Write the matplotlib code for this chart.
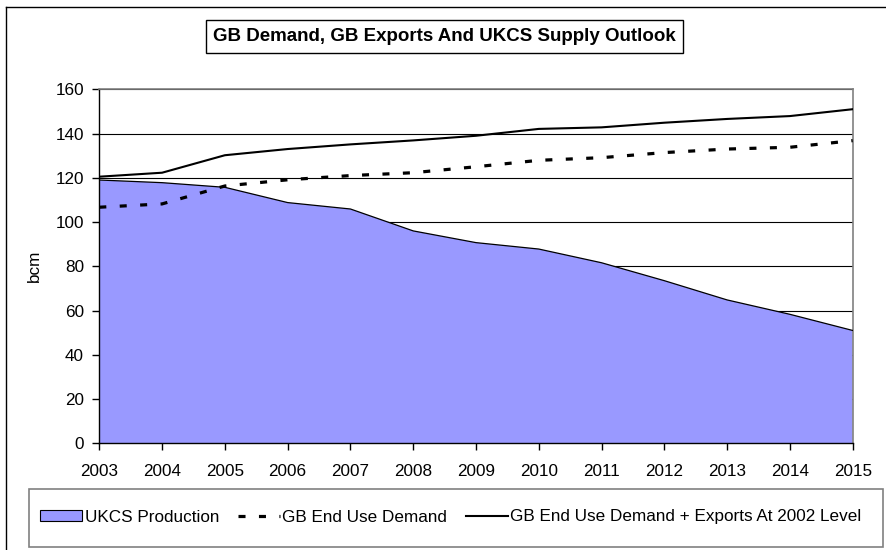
import matplotlib
matplotlib.use('Agg')
import matplotlib.pyplot as plt
from matplotlib.patches import Rectangle, Patch
from matplotlib.lines import Line2D

plt.rcParams['font.family'] = ['Liberation Sans', 'DejaVu Sans']

# values (bcm)
years = [2003, 2004, 2005, 2006, 2007, 2008, 2009, 2010, 2011, 2012, 2013, 2014, 2015]
ukcs_production = [119, 117.8, 115.7, 108.8, 105.9, 96, 90.7, 87.8, 81.6, 73.5, 64.8, 58.3, 51]
gb_demand = [106.7, 108.2, 116.3, 119.1, 121, 122.3, 125, 127.9, 129.1, 131.4, 133, 133.8, 136.8]
gb_demand_exports = [120.5, 122.3, 130.2, 133, 135.1, 136.9, 139, 142.1, 142.8, 144.9, 146.6, 147.9, 151]
y_ticks = [0, 20, 40, 60, 80, 100, 120, 140, 160]

W, H = 886, 550
fig = plt.figure(figsize=(W / 100, H / 100), dpi=100)

# outer chart border (left and top visible)
fig.add_artist(Line2D([6 / W, 6 / W], [0, 1 - 7 / H], color='black', lw=1))
fig.add_artist(Line2D([6 / W, 1], [1 - 7 / H, 1 - 7 / H], color='black', lw=1))

ax = fig.add_axes([99.3 / W, 1 - 443.3 / H, 753.4 / W, 354 / H])

ax.fill_between(years, ukcs_production, 0, facecolor='#9999FF', edgecolor='none', zorder=2)
ax.plot(years, ukcs_production, color='black', lw=0.9, zorder=3)
ax.plot(years, gb_demand, color='black', lw=2.3, linestyle=(0, (2.2, 4.2)),
        dash_capstyle='butt', zorder=4)
ax.plot(years, gb_demand_exports, color='black', lw=1.5, zorder=4)

ax.set_xlim(2003, 2015)
ax.set_ylim(0, 160)
ax.set_xticks(years)
ax.set_yticks(y_ticks)
ax.yaxis.grid(True, color='black', lw=0.8)
ax.set_axisbelow(True)

for s in ['top', 'right']:
    ax.spines[s].set_color('#808080')
    ax.spines[s].set_linewidth(1.2)
for s in ['left', 'bottom']:
    ax.spines[s].set_color('black')
    ax.spines[s].set_linewidth(1)
ax.spines['bottom'].set_zorder(5)

ax.tick_params(axis='x', direction='out', length=5, width=1, pad=10, labelsize=12.3)
ax.tick_params(axis='y', direction='out', length=5, width=1, pad=6, labelsize=12.3)
ax.set_ylabel('bcm', fontsize=12.3)
ax.yaxis.set_label_coords(-(99.3 - 41.7) / 753.4, 0.5)

# title box
fig.add_artist(Rectangle((205.7 / W, 1 - 52.7 / H), 477 / W, 32.7 / H,
                         transform=fig.transFigure, facecolor='white',
                         edgecolor='black', lw=1))
fig.text(444 / W, 1 - 36.5 / H, 'GB Demand, GB Exports And UKCS Supply Outlook',
         ha='center', va='center', fontsize=13.5, fontweight='bold')

# legend box
fig.add_artist(Rectangle((29 / W, 1 - 547 / H), 854 / W, 58 / H,
                         transform=fig.transFigure, facecolor='white',
                         edgecolor='#808080', lw=1.2))
handles = [
    Patch(facecolor='#9999FF', edgecolor='black', lw=0.8),
    Line2D([], [], color='black', lw=2.3, linestyle=(0, (2.2, 4.2)), dash_capstyle='butt'),
    Line2D([], [], color='black', lw=1.5),
]
labels = ['UKCS Production', 'GB End Use Demand', 'GB End Use Demand + Exports At 2002 Level']
fig.legend(handles, labels, loc='center', bbox_to_anchor=(451 / W, 1 - 517 / H),
           ncol=3, frameon=False, fontsize=12.3, handlelength=2.45, handleheight=0.65,
           handletextpad=0.15, columnspacing=1.1)

fig.savefig('out.png', dpi=100)
